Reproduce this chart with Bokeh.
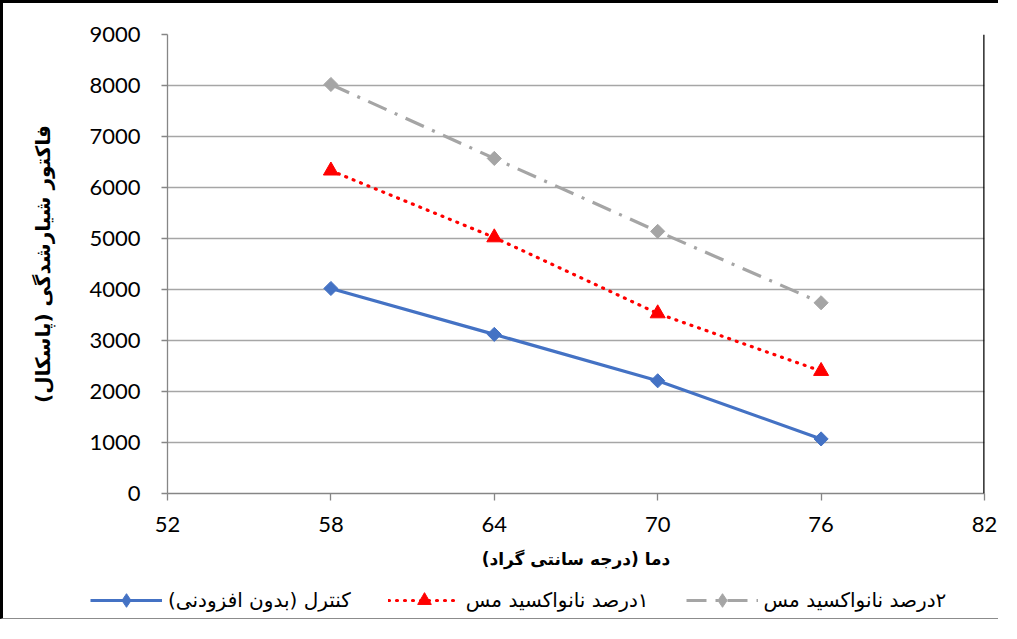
from bokeh.plotting import figure
from bokeh.models import ColumnDataSource, Legend, LegendItem, Span, FixedTicker
from bokeh.embed import file_html
from bokeh.resources import INLINE

# ---- data ----
temperature = [58, 64, 70, 76]
control = [4020, 3120, 2210, 1070]
nano_1 = [6330, 5020, 3530, 2400]
nano_2 = [8020, 6570, 5140, 3740]

series_names = [
    "\u200fکنترل (بدون افزودنی)\u200f",
    "\u200f۱درصد نانواکسید مس\u200f",
    "\u200f۲درصد نانواکسید مس\u200f",
]
x_label = "\u200fدما (درجه سانتی گراد)\u200f"
y_label = "\u200fفاکتور شیارشدگی (پاسکال)\u200f"
x_ticks = [52, 58, 64, 70, 76, 82]
y_ticks = [0, 1000, 2000, 3000, 4000, 5000, 6000, 7000, 8000, 9000]

colors = ["#4472C4", "#FF0000", "#A5A5A5"]

FA_FONT = "DejaVu Sans"
NUM_FONT = "Lato"

W, H_MAIN, H_LEG = 998, 578, 41

p = figure(width=W, height=H_MAIN, x_range=(52, 82), y_range=(0, 9000),
           output_backend="svg", toolbar_location=None,
           min_border_left=164, min_border_right=17,
           min_border_top=31, min_border_bottom=88)
p.styles = {"border-left": "3px solid black", "border-top": "3px solid black"}
p.outline_line_color = None
p.background_fill_color = "white"
p.border_fill_color = "white"

# grid
p.xgrid.visible = False
p.ygrid.grid_line_color = "#a6a6a6"
p.ygrid.grid_line_width = 1.3
p.ygrid.ticker = FixedTicker(ticks=y_ticks)

# axes
for ax in (p.xaxis[0], p.yaxis[0]):
    ax.axis_line_color = "#868686"
    ax.axis_line_width = 1.3
    ax.major_tick_line_color = "#868686"
    ax.major_tick_line_width = 1.3
    ax.major_tick_in = 0
    ax.minor_tick_line_color = None
    ax.major_label_text_font = NUM_FONT
    ax.major_label_text_font_size = "22px"
    ax.major_label_text_color = "black"
    ax.axis_label_text_font = FA_FONT
    ax.axis_label_text_font_style = "bold"
    ax.axis_label_text_color = "black"

p.xaxis.axis_label_text_font_size = "17px"
p.yaxis.axis_label_text_font_size = "20px"
p.xaxis.ticker = FixedTicker(ticks=x_ticks)
p.yaxis.ticker = FixedTicker(ticks=y_ticks)
p.xaxis.major_tick_out = 7
p.yaxis.major_tick_out = 6
p.xaxis.major_label_standoff = 16
p.yaxis.major_label_standoff = 21
p.xaxis.axis_label = x_label
p.yaxis.axis_label = y_label
p.xaxis.axis_label_standoff = 14
p.yaxis.axis_label_standoff = 31

# right black edge of plot area
p.add_layout(Span(location=82, dimension="height", line_color="black", line_width=2.5))

src = ColumnDataSource(dict(x=temperature, c=control, n1=nano_1, n2=nano_2))

line_styles = [dict(line_width=3.2),
               dict(line_width=3.2, line_dash="1 7", line_cap="round"),
               dict(line_width=3.2, line_dash="20 9 3 9")]
marker_styles = [dict(marker="square", angle=0.785398, size=10),
                 dict(marker="triangle", size=15),
                 dict(marker="square", angle=0.785398, size=10)]
legend_markers = ["diamond", "triangle", "diamond"]
cols = ["c", "n1", "n2"]

for col, c, ls, ms in zip(cols, colors, line_styles, marker_styles):
    p.line("x", col, source=src, line_color=c, **ls)
    p.scatter("x", col, source=src, fill_color=c, line_color=c, **ms)

# ---- legend strip below the chart (separate root, no frame alignment) ----
leg = figure(width=W, height=H_LEG, x_range=(0, 1), y_range=(0, 1),
             output_backend="svg", toolbar_location=None,
             x_axis_location=None, y_axis_location=None,
             min_border=0)
leg.styles = {"border-left": "3px solid black", "border-bottom": "1px solid #8c8c8c"}
leg.grid.visible = False
leg.outline_line_color = None
leg.background_fill_color = "white"
leg.border_fill_color = "white"

items = []
for name, col, c, ls, mk in zip(series_names, cols, colors, line_styles, legend_markers):
    # same series, outside this strip's view: only their legend samples show
    lr = leg.line("x", col, source=src, line_color=c, **ls)
    mr = leg.scatter("x", col, source=src, marker=mk, fill_color=c, line_color=c)
    items.append(LegendItem(label=name, renderers=[lr, mr]))

legend = Legend(items=items, orientation="horizontal", location=(87, 2))
legend.margin = 0
legend.label_text_font = FA_FONT
legend.label_text_font_size = "20px"
legend.label_text_color = "black"
legend.glyph_width = 72
legend.glyph_height = 34
legend.label_standoff = 6
legend.spacing = 37
legend.padding = 2
legend.border_line_color = None
legend.background_fill_alpha = 0
leg.add_layout(legend, "center")

open("out.html", "w").write(file_html([p, leg], INLINE))
